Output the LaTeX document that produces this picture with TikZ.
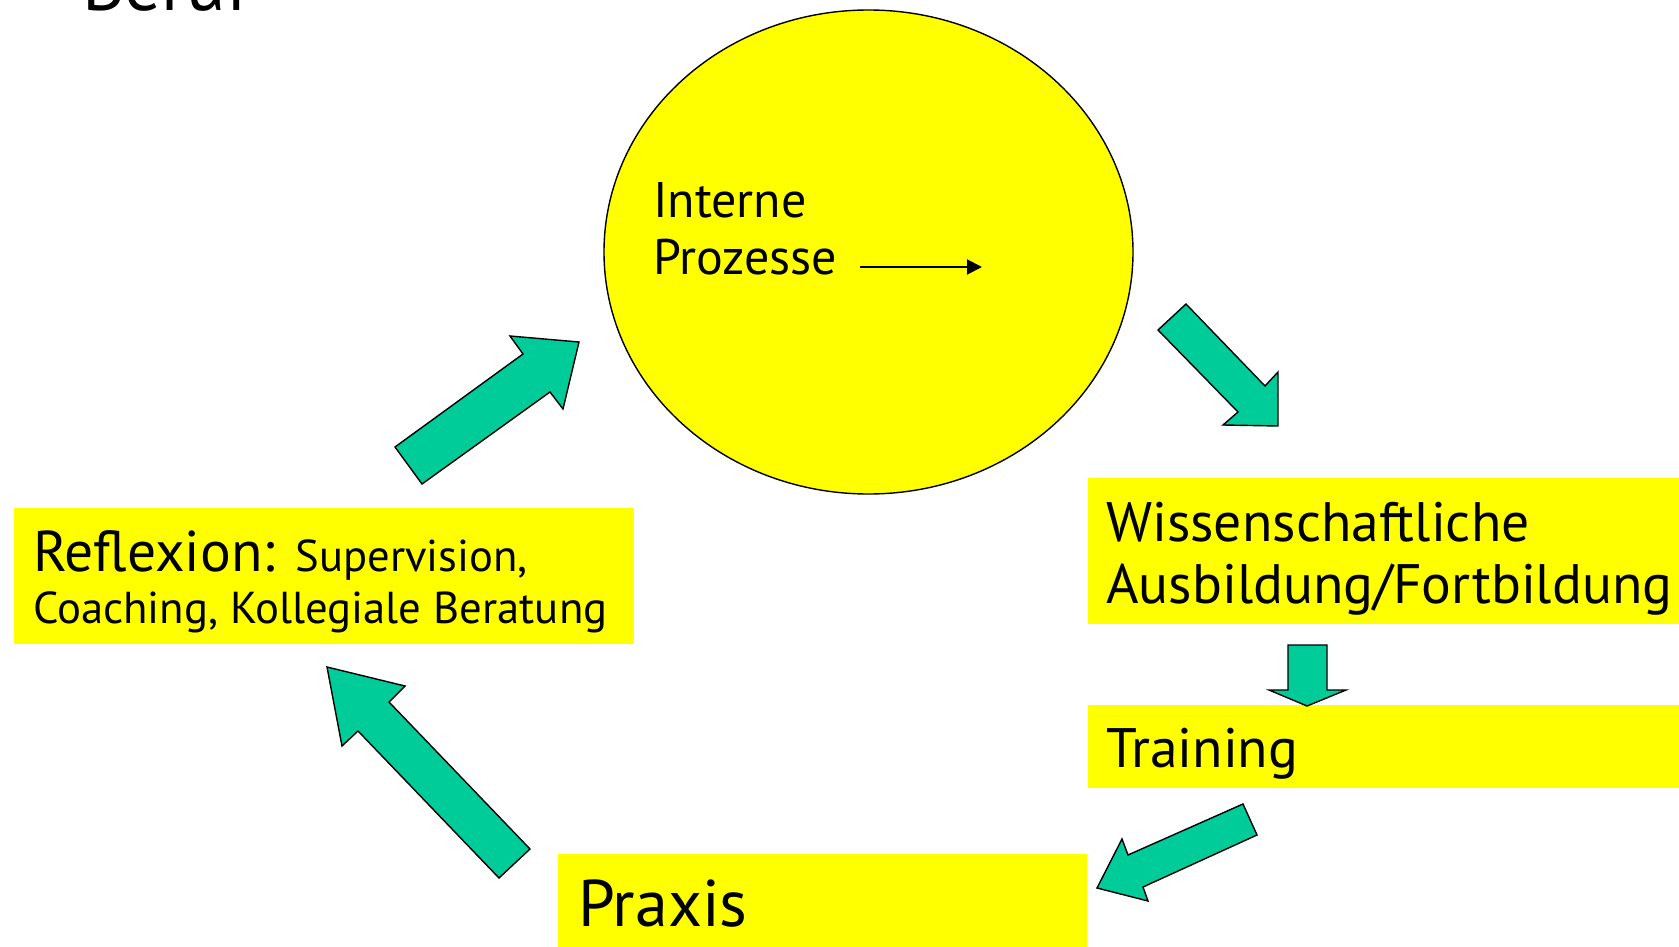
\documentclass[tikz,border=0pt]{standalone}
\usepackage{fontspec}
\setmainfont{PT Sans}
\usetikzlibrary{arrows.meta,shapes.geometric}
\definecolor{boxyellow}{RGB}{255,255,0}
\definecolor{arrowteal}{RGB}{0,204,153}
\begin{document}
\begin{tikzpicture}[x=1pt,y=-1pt,
  box/.style={fill=boxyellow, draw=none, inner sep=0pt, anchor=north west},
  lbl/.style={anchor=base west, inner sep=0pt, text=black},
  blockarrow/.style={fill=arrowteal, draw=black, line width=1.4pt, line join=miter},
  thinarrow/.style={line width=2pt, -{Triangle[length=15pt,width=15pt]}}]
\useasboundingbox (0,0) rectangle (1679,947);
\clip (0,0) rectangle (1679,947);
% title (cut off at the top)
\node[lbl, font=\fontsize{73}{84}\selectfont] (title) at (82,11) {Beruf};
% central ellipse
\node[draw=black, line width=1.4pt, ellipse, fill=boxyellow, minimum width=529pt, minimum height=484pt, inner sep=0pt] (intern) at (868.5,252) {};
\node[lbl, font=\fontsize{50}{57}\selectfont] (interne) at (653,217) {Interne};
\node[lbl, font=\fontsize{50}{57}\selectfont] (prozesse) at (653,274) {Prozesse};
\coordinate (pstart) at (860,267);
\coordinate (pend) at (982,267);
\draw[thinarrow] (pstart) -- (pend);
% boxes
\node[box, minimum width=620pt, minimum height=136pt] (reflexbox) at (14,508) {};
\node[box, minimum width=591pt, minimum height=146pt] (wissbox) at (1088,478) {};
\node[box, minimum width=591pt, minimum height=83pt] (trainbox) at (1088,705) {};
\node[box, minimum width=529pt, minimum height=93pt] (praxisbox) at (558,854) {};
% texts
\node[lbl] (reflex1) at (33,571) {\fontsize{57.5}{60}\selectfont Reflexion: \fontsize{44.6}{52}\selectfont Supervision,};
\node[lbl, font=\fontsize{44.7}{52}\selectfont] (reflex2) at (33,623) {Coaching, Kollegiale Beratung};
\node[lbl, font=\fontsize{55.6}{62}\selectfont] (wiss1) at (1106,541) {Wissenschaftliche};
\node[lbl, font=\fontsize{55.6}{62}\selectfont] (wiss2) at (1106,603) {Ausbildung/Fortbildung};
\node[lbl, font=\fontsize{55.6}{62}\selectfont] (train) at (1106,767) {Training};
\node[lbl, font=\fontsize{66}{70}\selectfont] (praxis) at (578,926) {Praxis};
% block arrows
% ellipse -> Wissenschaftliche
\draw[blockarrow] (1158,330) -- (1186,304) -- (1265,386) -- (1278,372) -- (1278,426) -- (1223,425) -- (1238,412) -- cycle;
% Wissenschaftliche -> Training
\draw[blockarrow] (1288,645) -- (1327,645) -- (1327,690) -- (1346,690) -- (1307,706) -- (1269,690) -- (1288,690) -- cycle;
% Training -> Praxis
\draw[blockarrow] (1243,804) -- (1257,835) -- (1143,887) -- (1148,901) -- (1097,888) -- (1122,839) -- (1128,855) -- cycle;
% Praxis -> Reflexion
\draw[blockarrow] (530,849) -- (499,878) -- (358,731) -- (342,746) -- (327,667) -- (405,686) -- (389,702) -- cycle;
% Reflexion -> ellipse
\draw[blockarrow] (395,447) -- (422,484) -- (550,392) -- (563,409) -- (579,342) -- (510,336) -- (523,354) -- cycle;
\end{tikzpicture}
\end{document}
